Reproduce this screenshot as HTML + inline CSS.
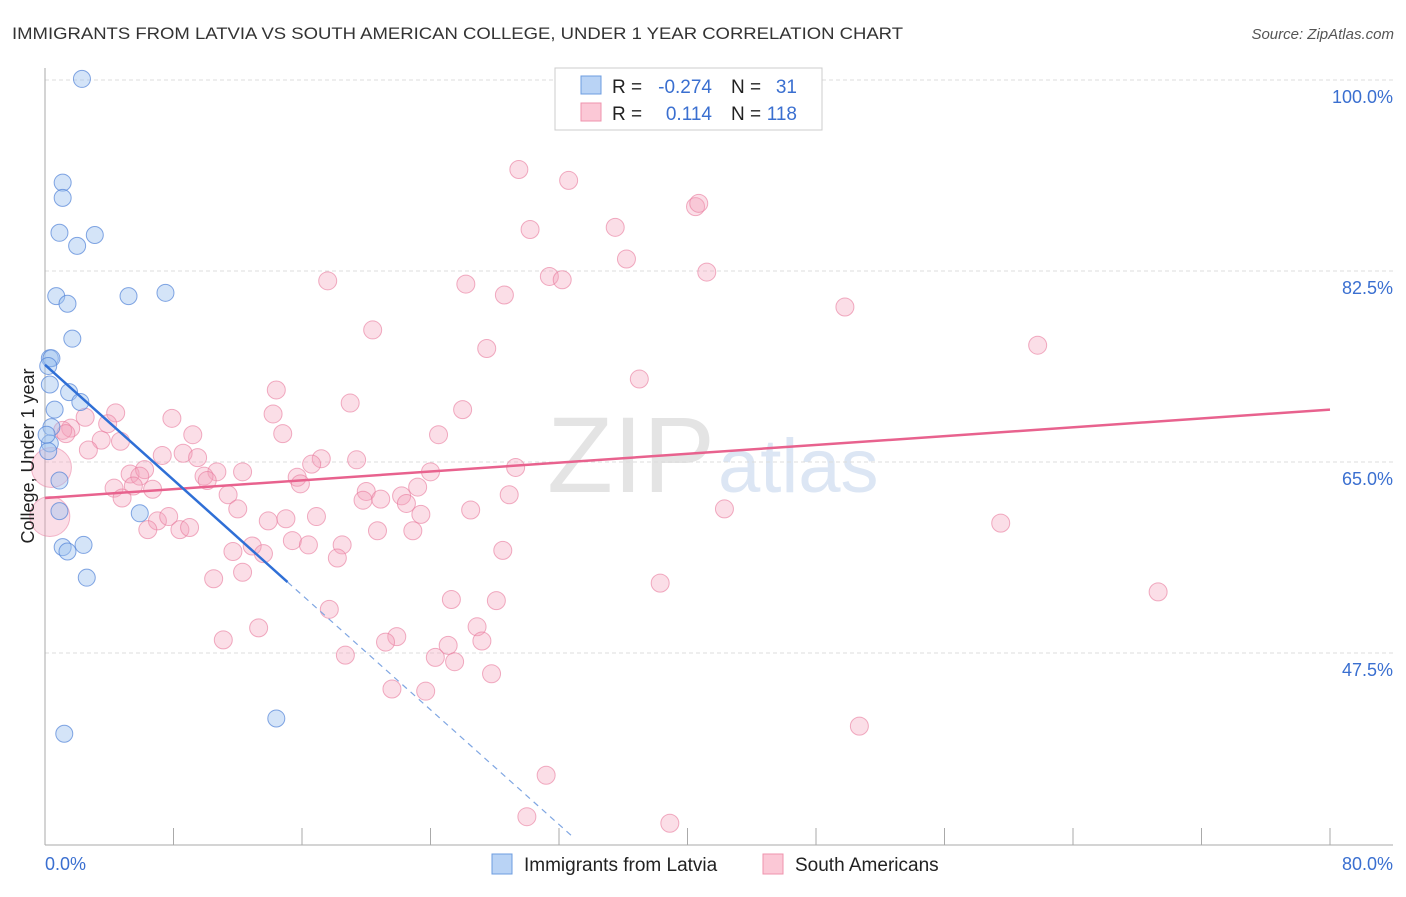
<!DOCTYPE html>
<html><head><meta charset="utf-8"><style>
body{margin:0;background:#fff;font-family:"Liberation Sans",sans-serif}
svg text{font-family:"Liberation Sans",sans-serif}
</style></head><body>
<svg id="c" width="1406" height="892" xmlns="http://www.w3.org/2000/svg">
<text x="12" y="39" font-size="17" fill="#333" textLength="891" lengthAdjust="spacingAndGlyphs">IMMIGRANTS FROM LATVIA VS SOUTH AMERICAN COLLEGE, UNDER 1 YEAR CORRELATION CHART</text>
<text x="1394" y="39" font-size="15" fill="#555" font-style="italic" text-anchor="end">Source: ZipAtlas.com</text>
<text x="715" y="492" font-size="108" fill="#e4e4e4" text-anchor="end" font-family="Liberation Serif">ZIP</text>
<text x="718" y="492" font-size="76" fill="#dce6f4">atlas</text>
<g id="grid"></g><g id="pts"></g><g id="lines"></g>
<text transform="translate(34,456) rotate(-90)" font-size="18" fill="#222" text-anchor="middle">College, Under 1 year</text>
<g>
<rect x="555" y="68" width="267" height="62" fill="#fff" stroke="#ccc"/>
<rect x="581" y="76" width="20" height="18" fill="#b9d3f5" stroke="#6d9de0"/>
<rect x="581" y="103" width="20" height="18" fill="#fbc8d6" stroke="#ef93ad"/>
<text x="612" y="93" font-size="19" fill="#222">R =</text>
<text x="712" y="93" font-size="19" fill="#3a6fd0" text-anchor="end">-0.274</text>
<text x="731" y="93" font-size="19" fill="#222">N =</text>
<text x="797" y="93" font-size="19" fill="#3a6fd0" text-anchor="end">31</text>
<text x="612" y="120" font-size="19" fill="#222">R =</text>
<text x="712" y="120" font-size="19" fill="#3a6fd0" text-anchor="end">0.114</text>
<text x="731" y="120" font-size="19" fill="#222">N =</text>
<text x="797" y="120" font-size="19" fill="#3a6fd0" text-anchor="end">118</text>
</g>
<g>
<rect x="492" y="854" width="20" height="20" fill="#b9d3f5" stroke="#6d9de0"/>
<text x="524" y="871" font-size="19" fill="#222">Immigrants from Latvia</text>
<rect x="763" y="854" width="20" height="20" fill="#fbc8d6" stroke="#ef93ad"/>
<text x="795" y="871" font-size="19" fill="#222">South Americans</text>
</g>
</svg>
<script>
const yTicks=[100,82.5,65,47.5];
const xTickVals=[0,8,16,24,32,40,48,56,64,72,80];
const blueX=[2.3,1.1,1.1,0.9,3.1,2.0,0.7,1.4,5.2,7.5,1.7,0.3,0.4,0.2,0.3,1.5,2.2,0.6,0.4,0.3,0.9,0.9,1.1,1.4,2.4,2.6,5.9,14.4,1.2,0.2,0.1];
const blueY=[100.1,90.6,89.2,86.0,85.8,84.8,80.2,79.5,80.2,80.5,76.3,74.5,74.5,73.8,72.1,71.4,70.5,69.8,68.2,66.7,63.3,60.5,57.2,56.8,57.4,54.4,60.3,41.5,40.1,66.0,67.5];
const pinkX=[29.5,32.6,40.5,40.7,30.2,35.5,36.2,31.4,32.2,41.2,26.2,17.6,28.6,49.8,20.4,27.5,61.8,37.0,14.4,19.0,26.0,14.2,7.9,4.4,2.5,3.9,1.6,1.1,1.3,9.2,14.8,24.5,3.5,4.7,17.2,2.7,7.3,8.6,9.5,19.4,16.6,4.3,15.7,12.3,10.7,5.3,6.2,5.9,9.9,24.0,29.3,5.5,15.9,10.1,23.2,4.8,6.7,11.4,20.0,22.2,28.9,20.9,19.8,22.5,12.0,26.5,23.4,42.3,59.5,13.9,15.0,16.9,7.0,7.7,6.4,8.4,9.0,22.9,20.7,15.4,16.4,18.5,11.7,12.9,13.6,28.5,18.2,12.3,10.5,38.3,25.3,28.1,17.7,26.9,21.9,69.3,11.1,13.3,21.2,25.1,27.2,18.7,24.3,25.5,27.8,21.6,23.7,50.7,31.2,30.0,38.9];
const pinkY=[91.8,90.8,88.4,88.7,86.3,86.5,83.6,82.0,81.7,82.4,81.3,81.6,80.3,79.2,77.1,75.4,75.7,72.6,71.6,70.4,69.8,69.4,69.0,69.5,69.1,68.5,68.1,67.9,67.6,67.5,67.6,67.5,67.0,66.9,65.3,66.1,65.6,65.8,65.4,65.2,64.8,62.6,63.6,64.1,64.1,63.9,64.3,63.7,63.7,64.1,64.5,62.8,63.0,63.3,62.7,61.7,62.5,62.0,62.3,61.9,62.0,61.6,61.5,61.2,60.7,60.6,60.2,60.7,59.4,59.6,59.8,60.0,59.6,60.0,58.8,58.8,59.0,58.7,58.7,57.8,57.4,57.4,56.8,57.3,56.6,56.9,56.2,54.9,54.3,53.9,52.4,52.3,51.5,49.9,49.0,53.1,48.7,49.8,48.5,48.2,48.6,47.3,47.1,46.7,45.6,44.2,44.0,40.8,36.3,32.5,31.9,40.1];
const pinkBigX=[0.4,0.3];
const pinkBigY=[64.5,60.0];
const blueLine=[0,73.9,15.1,54.0,32.9,30.6];
const pinkLine=[0,61.7,80,69.8];
const NS="http://www.w3.org/2000/svg";
const X=v=>45+v*16.0625, Y=v=>80+(100-v)*10.914;
function mk(t,a,p){const e=document.createElementNS(NS,t);for(const k in a)e.setAttribute(k,a[k]);p.appendChild(e);return e;}
const g=document.getElementById('grid');
yTicks.forEach(v=>{const l=mk('line',{x1:45,x2:1393,y1:Y(v),y2:Y(v),stroke:'#ddd','stroke-dasharray':'4 3'},g);


const t=mk('text',{x:1393,y:Y(v)+23,'font-size':18,fill:'#3a6fd0','text-anchor':'end'},g);t.textContent=v.toFixed(1)+'%';

});
const ax=mk('line',{x1:45,x2:45,y1:68,y2:845,stroke:'#aaa'},g);


const bx=mk('line',{x1:45,x2:1393,y1:845,y2:845,stroke:'#aaa'},g);


xTickVals.forEach(v=>{const l=mk('line',{x1:X(v),x2:X(v),y1:828,y2:845,stroke:'#aaa'},g);

});
[[0,'start','0.0%'],[80,'end','80.0%']].forEach(([v,a,s])=>{const t=mk('text',{x:v?1393:45,y:870,'font-size':18,fill:'#3a6fd0','text-anchor':a},g);t.textContent=s;

});
const p=document.getElementById('pts');
pinkX.forEach((v,i)=>{const c=mk('circle',{cx:X(v),cy:Y(pinkY[i]),r:9,fill:'rgba(244,160,185,0.35)',stroke:'rgba(232,120,155,0.6)'},p);

});
pinkBigX.forEach((v,i)=>{const c=mk('circle',{cx:X(v),cy:Y(pinkBigY[i]),r:20,fill:'rgba(244,160,185,0.35)',stroke:'rgba(232,120,155,0.5)'},p);

});
blueX.forEach((v,i)=>{const c=mk('circle',{cx:X(v),cy:Y(blueY[i]),r:8.5,fill:'rgba(160,195,240,0.45)',stroke:'rgba(80,130,215,0.7)'},p);

});
const L=document.getElementById('lines');
const pl=mk('line',{x1:X(pinkLine[0]),y1:Y(pinkLine[1]),x2:X(pinkLine[2]),y2:Y(pinkLine[3]),stroke:'#e8628e','stroke-width':2.5},L);


const b1=mk('line',{x1:X(blueLine[0]),y1:Y(blueLine[1]),x2:X(blueLine[2]),y2:Y(blueLine[3]),stroke:'#2f6fd6','stroke-width':2.5},L);


const b2=mk('line',{x1:X(blueLine[2]),y1:Y(blueLine[3]),x2:X(blueLine[4]),y2:Y(blueLine[5]),stroke:'#7fa6e2','stroke-width':1.2,'stroke-dasharray':'6 5'},L);


</script>
</body></html>
